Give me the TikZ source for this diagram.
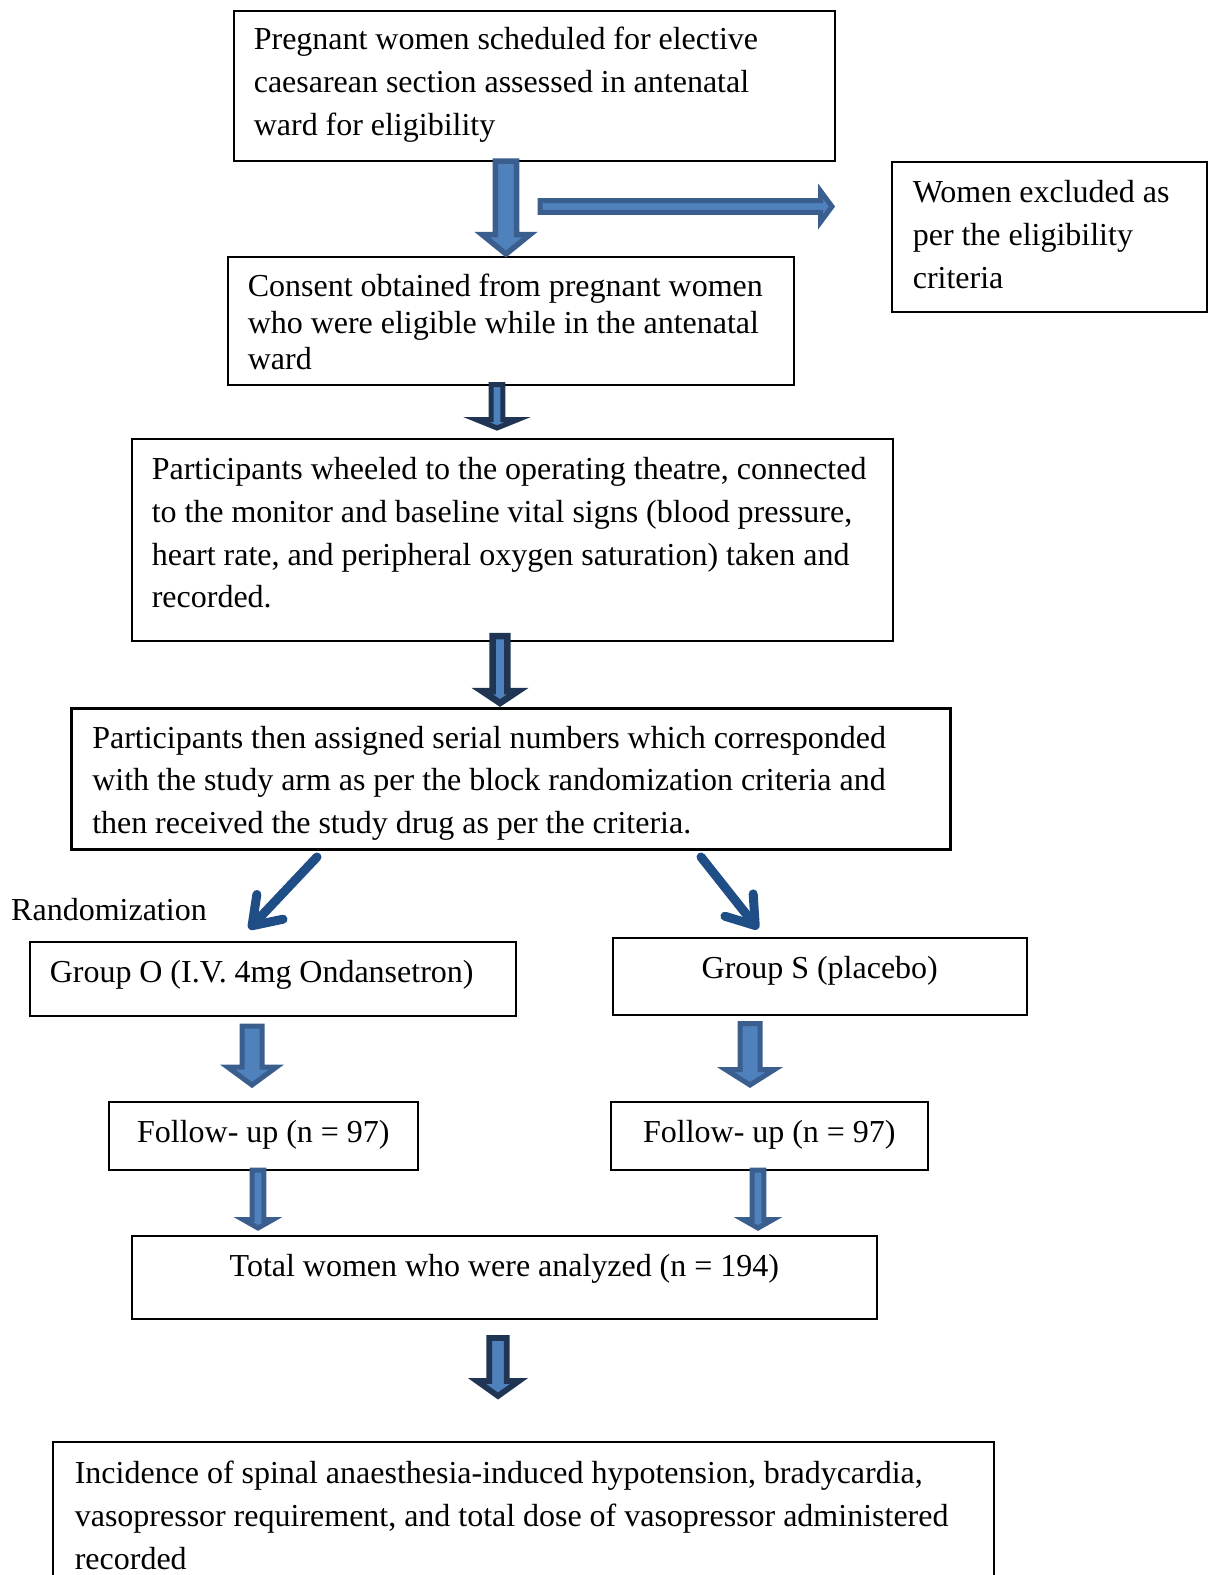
\documentclass[tikz,border=0pt]{standalone}
\usepackage{fontspec}
\setmainfont{Liberation Serif}
\usetikzlibrary{arrows.meta}
\definecolor{arrowfill}{HTML}{4F81BD}
\definecolor{arrowmed}{HTML}{3A5F8F}
\definecolor{arrowdark}{HTML}{1F3553}
\definecolor{diagblue}{HTML}{1F4D86}
\newcommand{\myfont}{\fontsize{32}{42.7}\selectfont}
\newcommand{\myfonttight}{\fontsize{32}{36.3}\selectfont}
\newcommand{\ws}{\spaceskip=7.9pt\relax\xspaceskip=7.9pt\relax}
\newcommand{\blkdown}[7]{\draw[#1] ({#2-#6},#3) -- ({#2+#6},#3) -- ({#2+#6},#4) -- ({#2+#7},#4) -- (#2,#5) -- ({#2-#7},#4) -- ({#2-#6},#4) -- cycle;}
\begin{document}
\begin{tikzpicture}[x=1pt,y=-1pt,
  every node/.style={font=\myfont},
  box/.style={draw, line width=1.6pt, inner ysep=0pt, align=left, anchor=north west},
  cbox/.style={box, align=center},
  medarrow/.style={fill=arrowfill, draw=arrowmed, line join=miter},
  darkarrow/.style={fill=arrowfill, draw=arrowdark, line join=miter},
  diag/.style={draw=diagblue, line width=9pt, line cap=round,
    -{Straight Barb[length=26pt,width=36pt,line width=9pt,round]}}]
\useasboundingbox (0,0) rectangle (1211,1575);

\node[box, text width=561pt, inner xsep=20pt, text height=39pt, text depth=111pt] (b1) at (233,10)
  {\ws\mbox{Pregnant women scheduled for elective}\\\mbox{caesarean section assessed in antenatal}\\\mbox{ward for eligibility}};
\node[box, text width=273pt, inner xsep=21pt, text height=41pt, text depth=109pt] (excl) at (891,161)
  {\ws\mbox{Women excluded as}\\\mbox{per the eligibility}\\\mbox{criteria}};
\node[box, font=\myfonttight, text width=526pt, inner xsep=20pt, text height=40pt, text depth=88pt] (b2) at (227,256)
  {\ws\mbox{Consent obtained from pregnant women}\\\mbox{who were eligible while in the antenatal}\\\mbox{ward}};
\node[box, text width=721pt, inner xsep=20pt, text height=41pt, text depth=161pt] (b3) at (131,438)
  {\ws\mbox{Participants wheeled to the operating theatre, connected}\\\mbox{to the monitor and baseline vital signs (blood pressure,}\\\mbox{heart rate, and peripheral oxygen saturation) taken and}\\\mbox{recorded.}};
\node[box, line width=2.5pt, text width=837pt, inner xsep=21pt, text height=40pt, text depth=101pt] (b4) at (70,707)
  {\ws\mbox{Participants then assigned serial numbers which corresponded}\\\mbox{with the study arm as per the block randomization criteria and}\\\mbox{then received the study drug as per the criteria.}};
\node[anchor=base west, inner sep=0pt] (rand) at (11,920) {Randomization};
\node[box, text width=446pt, inner xsep=20pt, text height=41pt, text depth=33pt] (go) at (29,941)
  {\ws\mbox{Group O (I.V. 4mg Ondansetron)}};
\node[cbox, text width=394pt, inner xsep=10pt, text height=41pt, text depth=36pt] (gs) at (612,937)
  {\ws Group S (placebo)};
\node[cbox, text width=289pt, inner xsep=10pt, text height=41pt, text depth=27pt] (fl) at (108,1101)
  {\ws Follow- up (n = 97)};
\node[cbox, text width=297pt, inner xsep=10pt, text height=41pt, text depth=27pt] (fr) at (610,1101)
  {\ws Follow- up (n = 97)};
\node[cbox, text width=725pt, inner xsep=10pt, text height=41pt, text depth=42pt] (tot) at (131,1235)
  {\ws Total women who were analyzed (n = 194)};
\node[box, draw=none, text width=897pt, inner xsep=21pt, text height=41pt, text depth=94pt] (fin) at (53,1442)
  {\ws\mbox{Incidence of spinal anaesthesia-induced hypotension, bradycardia,}\\\mbox{vasopressor requirement, and total dose of vasopressor administered}\\\mbox{recorded}};
\draw[line width=2pt] (fin.south west) -- (fin.north west) -- (fin.north east) -- (fin.south east);

% block arrows
\blkdown{medarrow, line width=5.5pt}{506}{161}{234.5}{254}{10.6}{24}
\draw[medarrow, line width=5pt] (540,200.7) -- (820.5,200.7) -- (820.5,191) -- (832,206.5) -- (820.5,222) -- (820.5,212.3) -- (540,212.3) -- cycle;
\blkdown{darkarrow, line width=5pt}{497}{384.5}{419.5}{428}{5.8}{21}
\blkdown{darkarrow, line width=6.5pt}{500}{636}{691}{703}{7.4}{18}
\blkdown{medarrow, line width=5pt}{252}{1026}{1067}{1085}{10}{24.5}
\blkdown{medarrow, line width=5pt}{750}{1023.5}{1069.5}{1085}{10}{24.5}
\blkdown{medarrow, line width=5pt}{258}{1170}{1219.5}{1228}{5.8}{15}
\blkdown{medarrow, line width=5pt}{758}{1170}{1219.5}{1228}{5.8}{15}
\blkdown{darkarrow, line width=5.7pt}{498}{1338}{1381}{1396}{8.8}{21}

% diagonal arrows
\coordinate (dl1) at (317,857);
\coordinate (dl2) at (249,929);
\coordinate (dr1) at (701,857);
\coordinate (dr2) at (758,929);
\draw[diag] (dl1) -- (dl2);
\draw[diag] (dr1) -- (dr2);
\end{tikzpicture}
\end{document}
